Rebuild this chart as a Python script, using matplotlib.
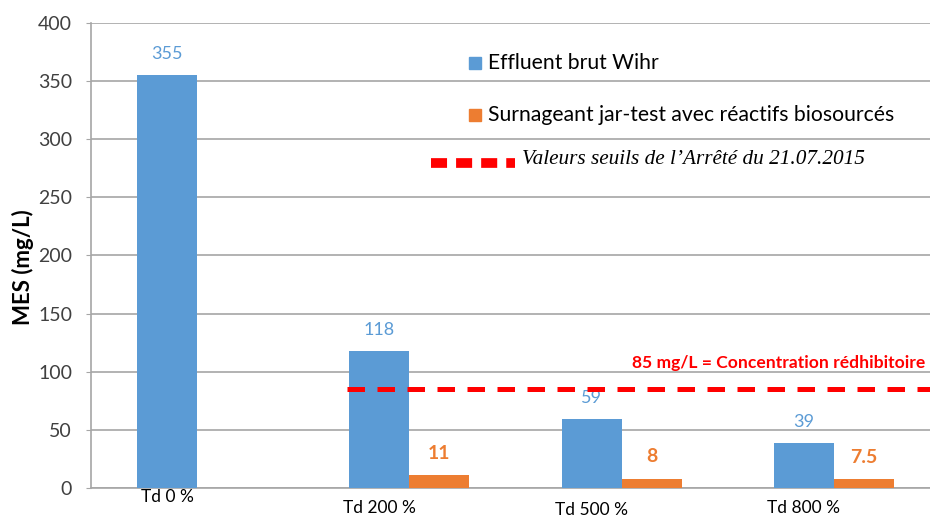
"""MES bar chart: raw effluent vs jar-test supernatant, with the 85 mg/L threshold."""

import matplotlib

matplotlib.use("Agg")
import matplotlib.pyplot as plt
import numpy as np
from matplotlib.lines import Line2D
from matplotlib.patches import Rectangle


CATEGORIES = ["Td 0 %", "Td 200 %", "Td 500 %", "Td 800 %"]
EFFLUENT = [355, 118, 59, 39]
SURNAGEANT = [np.nan, 11, 8, 7.5]
SURNAGEANT_LABELS = ["", "11", "8", "7.5"]
THRESHOLD = 85
THRESHOLD_LABEL = "85 mg/L = Concentration rédhibitoire"

BAR_W = 0.283
# category labels sit a bit lower for some groups in the original
LABEL_Y = [-0.019, -0.043, -0.047, -0.043]

BLUE = "#5B9BD5"
ORANGE = "#ED7D31"
RED = "#FF0000"
GRID = "#A6A6A6"
TEXT = "#404040"
W, H = 930, 518

plt.rcParams["font.family"] = ["Lato", "DejaVu Sans"]

fig = plt.figure(figsize=(W / 100, H / 100), dpi=100)
# plot area runs slightly past the right edge of the picture, as in the source
ax = fig.add_axes([91 / W, 1 - 488 / H, (940 - 91) / W, (488 - 23) / H])

x = np.arange(len(CATEGORIES))
ax.bar(x - BAR_W / 2, EFFLUENT, width=BAR_W, color=BLUE, zorder=3)
ax.bar(x + BAR_W / 2, SURNAGEANT, width=BAR_W, color=ORANGE, zorder=3)

for xi, v in zip(x, EFFLUENT):
    ax.text(xi - BAR_W / 2, v + 18, str(v), ha="center", va="center", color=BLUE,
            fontsize=13)
for xi, v, lab in zip(x, SURNAGEANT, SURNAGEANT_LABELS):
    if lab:
        ax.text(xi + BAR_W / 2, v + 19, lab, ha="center", va="center", color=ORANGE,
                fontsize=14, fontweight="bold")

# threshold starts just left of the Td 200 % group
ax.plot([1 - BAR_W - 0.01, 3.5], [THRESHOLD, THRESHOLD], color=RED, lw=3.6,
        dashes=(3.5, 2.5), zorder=4)
fig.text(925 / W, 1 - 363 / H, THRESHOLD_LABEL, ha="right", va="center", color=RED,
         fontsize=12.6, fontweight="bold")

ax.set_xlim(-0.5, 3.5)
ax.set_ylim(0, 400)
ax.set_yticks(range(0, 401, 50))
ax.tick_params(axis="y", colors=GRID, labelcolor=TEXT, labelsize=14, length=3.6, pad=10)
ax.set_xticks([])
ax.grid(axis="y", color=GRID, lw=1.2, zorder=0)
for side in ("top", "right"):
    ax.spines[side].set_visible(False)
for side in ("left", "bottom"):
    ax.spines[side].set_color(GRID)
    ax.spines[side].set_linewidth(1.2)

for xi, y, lab in zip(x, LABEL_Y, CATEGORIES):
    ax.text(xi - BAR_W / 2, y, lab, transform=ax.get_xaxis_transform(), ha="center",
            va="center", color="#000000", fontsize=12.5)

fig.text(23 / W, 1 - 267 / H, "MES (mg/L)", rotation=90, ha="center", va="center",
         fontsize=16, fontweight="bold", color="#000000")

# legend drawn by hand to keep the original placement
fig.add_artist(Rectangle((469 / W, 1 - 69 / H), 12 / W, 12 / H, color=BLUE,
                         transform=fig.transFigure))
fig.text(488 / W, 1 - 63 / H, "Effluent brut Wihr", va="center", fontsize=15.2,
         color="#000000")
fig.add_artist(Rectangle((469 / W, 1 - 121 / H), 12 / W, 12 / H, color=ORANGE,
                         transform=fig.transFigure))
fig.text(488 / W, 1 - 115 / H, "Surnageant jar-test avec réactifs biosourcés",
         va="center", fontsize=15.2, color="#000000")
fig.add_artist(Line2D([431 / W, 515 / W], [1 - 163 / H, 1 - 163 / H], color=RED,
                      lw=7, dashes=(1.65, 0.93), transform=fig.transFigure))
fig.text(522 / W, 1 - 160 / H, "Valeurs seuils de l’Arrêté du 21.07.2015", va="center",
         fontsize=15.3, style="italic", family=["Liberation Serif", "DejaVu Serif"],
         color="#000000")

fig.savefig("out.png", dpi=100)
